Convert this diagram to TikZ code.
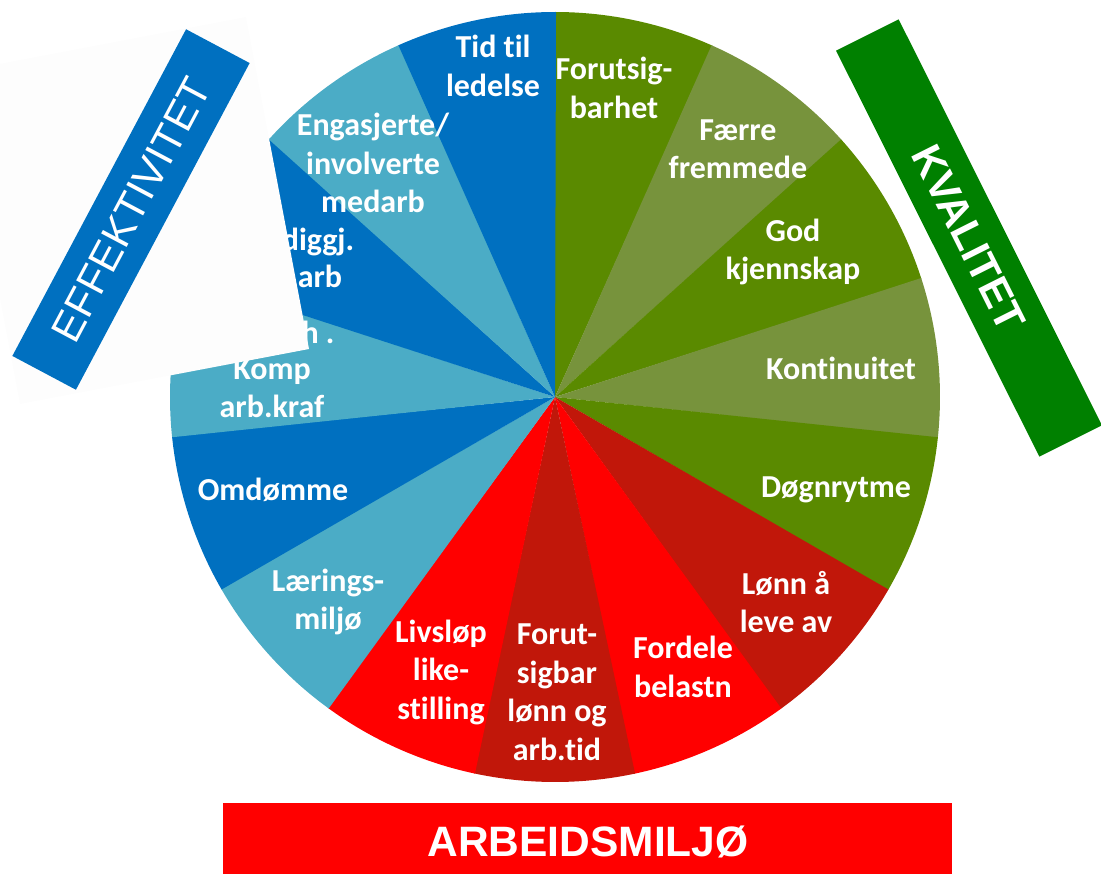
\documentclass[tikz,border=0pt]{standalone}
\usepackage{fontspec}
\newfontfamily\lblfont{Carlito}[Ligatures={NoCommon}]
\newfontfamily\arialfont{Liberation Sans}
\definecolor{eblue}{HTML}{0070C0}
\definecolor{eaqua}{HTML}{4BACC6}
\definecolor{kdg}{HTML}{5A8A00}
\definecolor{kol}{HTML}{77933C}
\definecolor{ared}{HTML}{FF0000}
\definecolor{adr}{HTML}{C1170A}
\definecolor{kgreen}{HTML}{008000}
\definecolor{offwhite}{HTML}{FDFDFD}
\begin{document}
\begin{tikzpicture}[x=1pt,y=-1pt,
  lbl/.style={text=white, font=\lblfont\bfseries\fontsize{32pt}{38.5pt}\selectfont, align=center, inner sep=0pt},
  banner/.style={inner sep=0pt, text=white, font=\arialfont\fontsize{42pt}{42pt}\selectfont}]
\useasboundingbox (0,0) rectangle (1101,874);
\coordinate (C) at (555,397);
% pie wedges (math angle of start edge, going clockwise by 24 degrees)
\foreach \a/\col in {90/kdg,66/kol,42/kdg,18/kol,-6/kdg,-30/adr,-54/ared,-78/adr,-102/ared,-126/eaqua,-150/eblue,-174/eaqua,-198/eblue,-222/eaqua,-246/eblue}{
  \fill[\col] (C) -- ++(-\a:385) arc[start angle=-\a, end angle=-\a+24.15, radius=385] -- cycle;
}
% labels
\node[lbl] (tid) at (493,66) {Tid til\\ledelse};
\node[lbl] (forutsig) at (614,88) {Forutsig-\\barhet};
\node[lbl] (faerre) at (738,149) {Færre\\fremmede};
\node[lbl] (god) at (793,252) {God\\kjennskap};
\node[lbl] (kont) at (841,368) {Kontinuitet};
\node[lbl] (dogn) at (836,490) {Døgnrytme};
\node[lbl] (lonn) at (786,602) {Lønn å\\leve av};
\node[lbl] (fordele) at (683,667) {Fordele\\belastn};
\node[lbl] (forutbar) at (557,692) {Forut-\\sigbar\\lønn og\\arb.tid};
\node[lbl] (livslop) at (441,672) {Livsløp\\like-\\stilling};
\node[lbl] (laering) at (328,602) {Lærings-\\miljø};
\node[lbl] (omd) at (273,490) {Omdømme};
\node[lbl] (komp) at (272,388) {Komp\\arb.kraf};
\node[lbl] (hdot) at (318,332) {h .};
\node[lbl] (arb) at (320,276) {arb};
\node[lbl] (diggj) at (318,242) {diggj.};
\node[lbl] (engas) at (373,163) {Engasjerte/\\involverte\\medarb};
% white panel behind the left banner
\fill[offwhite] (-43,72) -- (246,17) -- (309,349) -- (20,404) -- cycle;
% banners
\node[banner, rotate=62, fill=eblue, minimum width=370, minimum height=72] (eff) at (131,209.5) {EFFEKTIVITET};
\node[banner, font=\arialfont\bfseries\fontsize{42pt}{42pt}\selectfont, rotate=-63.4, fill=kgreen, minimum width=454, minimum height=70] (kval) at (969,238) {KVALITET};
\fill[ared] (223,803) rectangle (952,880);
\node[banner, font=\arialfont\bfseries\fontsize{42.5pt}{42pt}\selectfont, anchor=base] (arbm) at (588,856) {ARBEIDSMILJØ};
\end{tikzpicture}
\end{document}
